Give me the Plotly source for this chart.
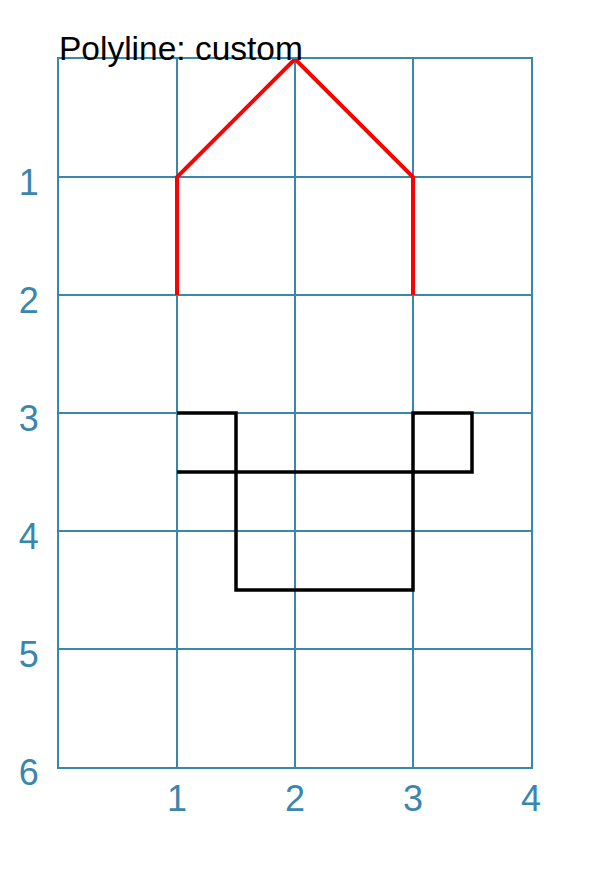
import plotly.graph_objects as go

# Data
red_x = [1, 1, 2, 3, 3]
red_y = [2, 1, 0, 1, 2]
black_x = [1, 1.5, 1.5, 3, 3, 3.5, 3.5, 1]
black_y = [3, 3, 4.5, 4.5, 3, 3, 3.5, 3.5]
x_ticks = [1, 2, 3, 4]
y_ticks = [1, 2, 3, 4, 5, 6]
title_text = "Polyline: custom"

grid_color = "#3a87ad"
font_family = "Liberation Sans, Arial, sans-serif"

fig = go.Figure()
fig.add_trace(go.Scatter(x=red_x, y=red_y, mode="lines",
                         line=dict(color="red", width=4), showlegend=False, hoverinfo="skip"))
fig.add_trace(go.Scatter(x=black_x, y=black_y, mode="lines",
                         line=dict(color="black", width=3.5), showlegend=False, hoverinfo="skip"))

axis_common = dict(showgrid=True, gridcolor=grid_color, gridwidth=2,
                   showline=True, linecolor=grid_color, linewidth=2, mirror=True,
                   zeroline=False, ticks="", automargin=False,
                   tickfont=dict(family=font_family, size=36, color=grid_color))

fig.update_xaxes(range=[0, 4], tickvals=x_ticks, ticktext=[str(v) for v in x_ticks],
                 ticklabelstandoff=-1, **axis_common)
fig.update_yaxes(range=[6, 0], tickvals=y_ticks, ticktext=[str(v) for v in y_ticks],
                 ticklabelstandoff=11, ticklabelshift=-5, **axis_common)

fig.add_annotation(text=title_text, xref="paper", yref="paper", x=0, y=1,
                   xanchor="left", yanchor="bottom", showarrow=False, yshift=-10, xshift=-2,
                   font=dict(family=font_family, size=33.5, color="black"))

fig.update_layout(width=605, height=867, margin=dict(l=51, r=82, t=51, b=108),
                  plot_bgcolor="white", paper_bgcolor="white")

fig.write_html("out.html")
